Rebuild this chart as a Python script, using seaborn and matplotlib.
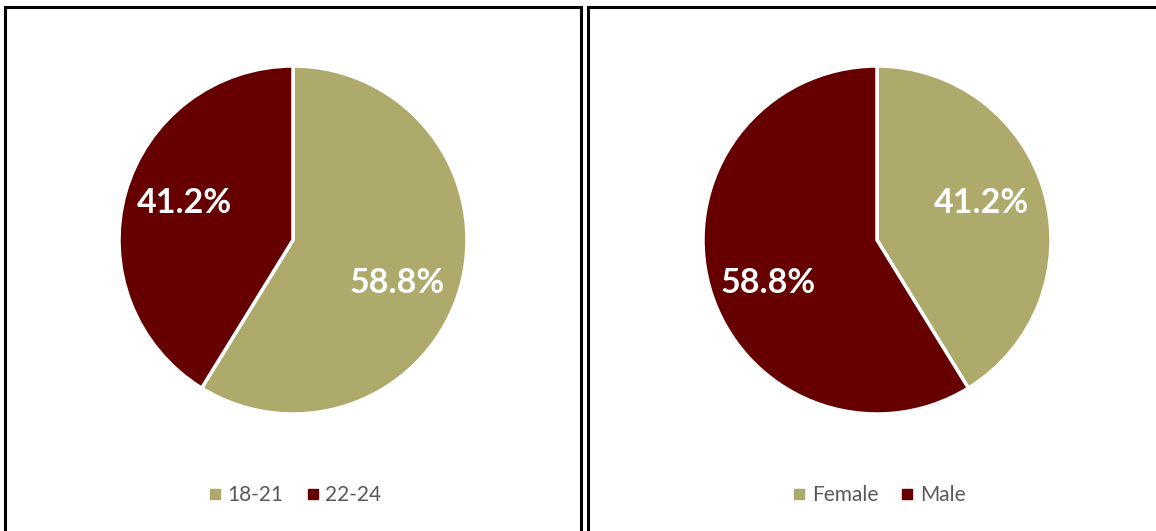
import matplotlib
matplotlib.use("Agg")
import matplotlib.pyplot as plt
import seaborn as sns
from matplotlib.lines import Line2D
from matplotlib.patches import Rectangle

# data
age_labels = ["18-21", "22-24"]
age_values = [58.8, 41.2]
gender_labels = ["Female", "Male"]
gender_values = [41.2, 58.8]

sns.set_theme(style="white")
plt.rcParams['font.family'] = ['Lato', 'DejaVu Sans']
colors = ["#ADAA6C", "#660000"]

W, H = 1156, 531
fig = plt.figure(figsize=(W / 100, H / 100), dpi=100)

# panel borders (figure pixels)
fig.patches.append(Rectangle((5 / W, -0.1), 576 / W, 1.1 - 7 / H, transform=fig.transFigure,
                             fill=False, edgecolor="black", linewidth=2.2))
fig.patches.append(Rectangle((588 / W, -0.1), 600 / W, 1.1 - 7 / H, transform=fig.transFigure,
                             fill=False, edgecolor="black", linewidth=2.2))


def draw_pie(cx, cy, r, values, labels, label_pos, legend_y):
    ax = fig.add_axes([(cx - r) / W, 1 - (cy + r) / H, 2 * r / W, 2 * r / H])
    wedges, texts, autotexts = ax.pie(values, colors=colors, startangle=90, counterclock=False,
                                      autopct="%.1f%%", pctdistance=0.66,
                                      wedgeprops=dict(edgecolor="white", linewidth=2.5))
    for t, pos in zip(autotexts, label_pos):
        t.set_color("white")
        t.set_fontsize(24.5)
        t.set_fontweight("bold")
        t.set_position(pos)
    ax.set_xlim(-1, 1)
    ax.set_ylim(-1, 1)
    handles = [Line2D([], [], marker="s", linestyle="none", markersize=7,
                      markerfacecolor=c, markeredgecolor=c) for c in colors]
    fig.legend(handles, labels, loc="center", bbox_to_anchor=(cx / W, 1 - legend_y / H),
               ncol=2, frameon=False, fontsize=15, labelcolor="#595959",
               handletextpad=0.1, columnspacing=0.9, handlelength=1.0)


draw_pie(293, 240, 174, age_values, age_labels, [(0.60, -0.245), (-0.625, 0.21)], 495)
draw_pie(877, 240, 174, gender_values, gender_labels, [(0.60, 0.21), (-0.625, -0.245)], 495)

fig.savefig("out.png", dpi=100)
